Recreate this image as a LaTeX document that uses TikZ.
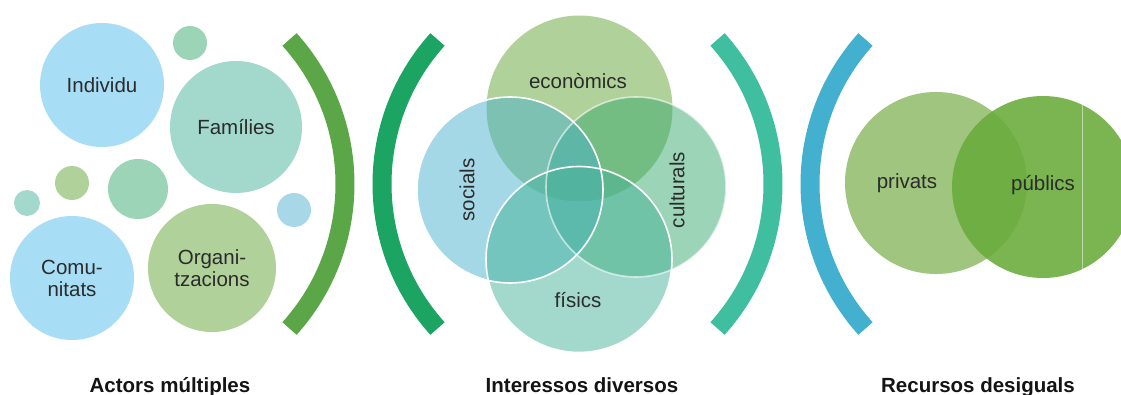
\documentclass[tikz,border=0pt]{standalone}
\usepackage{fontspec}
\setmainfont{Liberation Sans}
\usepackage{tikz}
\definecolor{Ink}{HTML}{2B2B2B}
\definecolor{Title}{HTML}{141414}
\definecolor{SkyBlue}{HTML}{A7DEF5}
\definecolor{PaleBlue}{HTML}{A8D8E8}
\definecolor{Mint}{HTML}{A3D9CC}
\definecolor{SeaMint}{HTML}{9BD4B6}
\definecolor{Sage}{HTML}{B0D29A}
\definecolor{EconBase}{HTML}{61A535}
\definecolor{SocBase}{HTML}{4BB1CD}
\definecolor{CultBase}{HTML}{37A96D}
\definecolor{PhysBase}{HTML}{47B399}
\definecolor{Private}{HTML}{A0C57F}
\definecolor{Public}{HTML}{68AB3A}
\definecolor{ArcGreen}{HTML}{5BA646}
\definecolor{ArcDeep}{HTML}{1BA462}
\definecolor{ArcTeal}{HTML}{40BFA0}
\definecolor{ArcBlue}{HTML}{44B0CF}

\begin{document}
\begin{tikzpicture}[
  x=1pt, y=-1pt,
  bubble/.style={
    circle,
    inner sep=0pt,
    minimum size=#1,
    align=center,
    text=Ink,
    font=\fontsize{20.5}{22}\selectfont
  },
  venn/.style={
    bubble=186,
    fill opacity=0.5
  },
  word/.style={text=Ink, inner sep=0pt, font=\fontsize{20.5}{22}\selectfont},
  caption/.style={text=Title, inner sep=0pt, anchor=base, font=\bfseries\fontsize{20.5}{22}\selectfont},
  bracket/.style={line width=19pt},
  rim/.style={draw=white, line width=1.6pt}
]
  \useasboundingbox (0,0) rectangle (1121,395);

  \node[bubble=34, fill=SeaMint] (dotA) at (190,43) {};
  \node[bubble=34, fill=Sage] (dotB) at (72,183) {};
  \node[bubble=60, fill=SeaMint] (dotC) at (138,189) {};
  \node[bubble=26, fill=Mint] (dotD) at (27,203) {};
  \node[bubble=34, fill=PaleBlue] (dotE) at (294,210) {};
  \node[bubble=124, fill=SkyBlue] (individu) at (102,85) {Individu};
  \node[bubble=132, fill=Mint] (families) at (236,127) {Famílies};
  \node[bubble=124, fill=SkyBlue] (comunitats) at (72,278) {Comu-\\nitats};
  \node[bubble=128, fill=Sage] (organitzacions) at (212,268) {Organi-\\tzacions};

  \draw[bracket, draw=ArcGreen] (129,184) ++(-42:216) arc (-42:42:216);
  \draw[bracket, draw=ArcDeep] (598,184) ++(138:216) arc (138:222:216);

  \node[venn, fill=EconBase] (economics) at (579.5,108.5) {};
  \node[venn, fill=CultBase, minimum size=180] (culturals) at (636,187) {};
  \node[venn, fill=SocBase] (socials) at (510,190) {};
  \node[venn, fill=PhysBase] (physics) at (579,259.5) {};
  \draw[rim, draw opacity=0.6] (culturals.center) circle (90);
  \draw[rim] (socials.center) circle (93);
  \draw[rim] (physics.center) circle (93);
  \node[word] (economicsText) at (578,81) {econòmics};
  \node[word, rotate=90] (socialsText) at (467,190) {socials};
  \node[word, rotate=90] (culturalsText) at (677,190) {culturals};
  \node[word] (physicsText) at (578,300) {físics};

  \draw[bracket, draw=ArcTeal] (557,184) ++(-42:216) arc (-42:42:216);
  \draw[bracket, draw=ArcBlue] (1026,184) ++(138:216) arc (138:222:216);

  \node[bubble=182, fill=Private] (privats) at (936,183) {};
  \node[bubble=182, fill=Public, fill opacity=0.88] (publics) at (1043,187) {};
  \draw[white, draw opacity=0.5, line width=0.8pt] (publics.center) ++(39,-82) -- ++(0,164);
  \node[word] (privatsText) at (907,183) {privats};
  \node[word] (publicsText) at (1043,185) {públics};

  \node[caption] (actors) at (170,392.5) {Actors múltiples};
  \node[caption] (interests) at (582,392.5) {Interessos diversos};
  \node[caption] (resources) at (978,392.5) {Recursos desiguals};
\end{tikzpicture}
\end{document}
